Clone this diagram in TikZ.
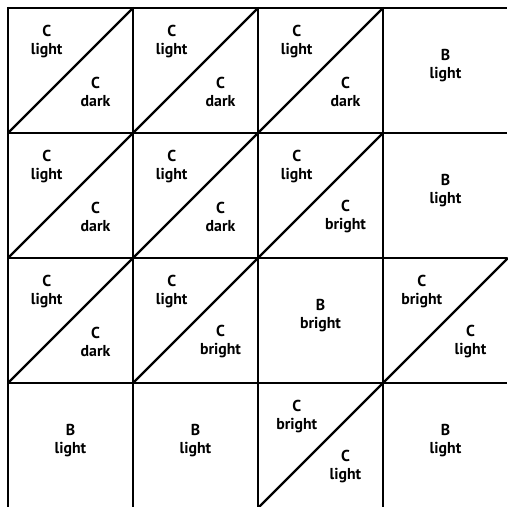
\documentclass[tikz,border=0pt]{standalone}
\usepackage{fontspec}
\setmainfont{PT Sans}
\begin{document}
\begin{tikzpicture}[
    font=\fontsize{9}{10.5}\selectfont\bfseries,
    grid/.style={line width=1.3pt},
    lbl/.style={align=center,inner sep=0pt}]

\def\s{2.5}

% Frame of the picture
\useasboundingbox (-0.16,0.16) rectangle (9.98,-9.98);

% Grid lines
\foreach \i in {0,...,3}{
    \draw[grid] (-0.02,-\i*\s) -- (9.98,-\i*\s);
    \draw[grid] (\i*\s,0.02) -- (\i*\s,-9.98);
}

% Split squares: column/row/upper/lower
\foreach \c/\r/\up/\lo [count=\n] in {0/0/light/dark, 1/0/light/dark, 2/0/light/dark,
        0/1/light/dark, 1/1/light/dark, 2/1/light/bright,
        0/2/light/dark, 1/2/light/bright, 3/2/bright/light,
        2/3/bright/light}{
    \draw[grid] (\c*\s,-\r*\s-\s) -- (\c*\s+\s,-\r*\s);
    \node[lbl] (up\n) at ({(\c+0.31)*\s},{-(\r+0.27)*\s}) {C\\\up};
    \node[lbl] (lo\n) at ({(\c+0.70)*\s},{-(\r+0.67)*\s}) {C\\\lo};
}

% Whole squares: column/row/shade
\foreach \c/\r/\sh [count=\n] in {3/0/light, 3/1/light, 2/2/bright,
        0/3/light, 1/3/light, 3/3/light}{
    \node[lbl] (b\n) at ({(\c+0.5)*\s},{-(\r+0.46)*\s}) {B\\\sh};
}

\end{tikzpicture}
\end{document}
